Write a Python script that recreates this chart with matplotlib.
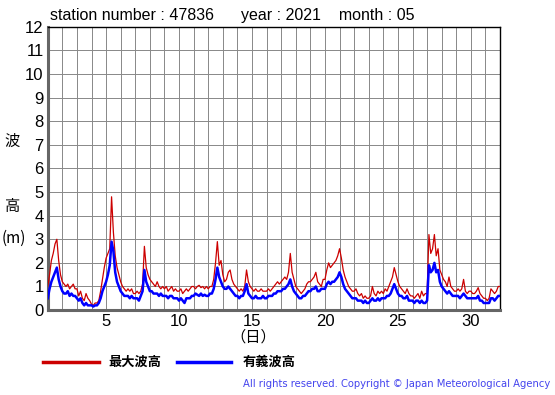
import numpy as np
import matplotlib
matplotlib.use("Agg")
from matplotlib import pyplot as plt
from matplotlib.lines import Line2D

plt.rcParams['font.family'] = ['Liberation Sans', 'Noto Sans CJK JP']

STATION = "47836"
YEAR = "2021"
MONTH = "05"

# 3-hourly readings, one row per day (00,03,...,21h), last value = 1 June 00h
max_wave = [
    1.0, 1.5, 2.1, 2.4, 2.8, 3.0, 2.1, 1.5,
    1.2, 1.1, 1.0, 1.1, 0.9, 1.0, 1.1, 0.9,
    0.9, 0.6, 0.8, 0.5, 0.4, 0.7, 0.5, 0.4,
    0.25, 0.2, 0.3, 0.3, 0.4, 0.8, 1.3, 1.8,
    2.2, 2.4, 2.6, 4.8, 3.3, 2.3, 1.8, 1.5,
    1.2, 1.0, 0.9, 0.8, 0.9, 0.8, 0.9, 0.7,
    0.7, 0.8, 0.7, 0.8, 1.1, 2.7, 1.8, 1.5,
    1.3, 1.2, 1.1, 1.0, 1.2, 1.0, 0.9, 1.0,
    0.9, 1.0, 0.8, 0.9, 1.0, 0.8, 0.9, 0.8,
    0.8, 0.9, 0.7, 0.8, 0.9, 0.8, 0.9, 1.0,
    1.0, 0.9, 1.0, 1.05, 0.95, 1.0, 0.9, 1.0,
    0.9, 1.0, 1.0, 1.3, 2.0, 2.9, 1.9, 2.1,
    1.5, 1.2, 1.3, 1.6, 1.7, 1.3, 1.1, 1.0,
    0.9, 0.8, 0.9, 0.8, 1.0, 1.7, 1.2, 1.0,
    0.9, 0.8, 0.9, 0.8, 0.8, 0.9, 0.8, 0.8,
    0.8, 0.9, 0.8, 0.9, 1.0, 1.1, 1.2, 1.1,
    1.2, 1.3, 1.4, 1.3, 1.6, 2.4, 1.6, 1.3,
    1.0, 0.9, 0.8, 0.7, 0.8, 0.9, 1.1, 1.2,
    1.2, 1.3, 1.4, 1.6, 1.2, 1.1, 1.0, 1.3,
    1.3, 1.7, 2.0, 1.8, 1.9, 2.0, 2.1, 2.3,
    2.6, 2.2, 1.7, 1.4, 1.2, 1.0, 0.9, 0.8,
    0.8, 0.9, 0.7, 0.6, 0.7, 0.5, 0.6, 0.5,
    0.5, 0.6, 1.0, 0.7, 0.6, 0.8, 0.7, 0.8,
    0.7, 0.9, 0.8, 1.0, 1.2, 1.4, 1.8, 1.5,
    1.2, 1.0, 0.9, 0.8, 0.7, 0.9, 0.7, 0.6,
    0.6, 0.5, 0.6, 0.7, 0.5, 0.8, 0.6, 0.7,
    0.7, 3.2, 2.4, 2.6, 3.2, 2.3, 2.6, 1.7,
    1.5, 1.3, 1.2, 1.0, 1.4, 1.0, 0.9, 0.8,
    0.8, 0.9, 0.8, 0.9, 1.3, 0.8, 0.7, 0.8,
    0.8, 0.7, 0.7, 0.8, 0.95, 0.7, 0.6, 0.5,
    0.5, 0.4, 0.5, 0.9, 0.8, 0.7, 0.8, 1.0,
    1.0,
]

sig_wave = [
    0.5, 0.9, 1.2, 1.4, 1.6, 1.8, 1.3, 1.0,
    0.8, 0.7, 0.7, 0.8, 0.6, 0.7, 0.6, 0.6,
    0.5, 0.4, 0.5, 0.3, 0.2, 0.3, 0.2, 0.2,
    0.2, 0.15, 0.2, 0.2, 0.3, 0.5, 0.8, 1.0,
    1.2, 1.5, 1.9, 2.9, 2.5, 1.6, 1.2, 1.0,
    0.8, 0.7, 0.6, 0.6, 0.6, 0.5, 0.6, 0.5,
    0.5, 0.5, 0.4, 0.6, 0.8, 1.7, 1.2, 1.0,
    0.8, 0.8, 0.7, 0.7, 0.7, 0.6, 0.7, 0.6,
    0.6, 0.6, 0.5, 0.6, 0.6, 0.5, 0.5, 0.5,
    0.4, 0.5, 0.4, 0.3, 0.5, 0.5, 0.5, 0.6,
    0.6, 0.7, 0.65, 0.6, 0.7, 0.6, 0.65, 0.6,
    0.6, 0.7, 0.7, 0.9, 1.3, 1.8, 1.4, 1.2,
    1.0, 0.9, 0.9, 1.0, 0.9, 0.8, 0.7, 0.6,
    0.6, 0.5, 0.6, 0.6, 0.8, 1.1, 0.7, 0.6,
    0.5, 0.5, 0.6, 0.5, 0.5, 0.5, 0.6, 0.5,
    0.5, 0.6, 0.6, 0.6, 0.7, 0.7, 0.8, 0.8,
    0.8, 0.9, 0.9, 1.0, 1.1, 1.3, 1.0, 0.8,
    0.7, 0.6, 0.5, 0.5, 0.6, 0.6, 0.7, 0.8,
    0.8, 0.9, 0.9, 1.0, 0.8, 0.8, 0.9, 0.9,
    0.9, 1.1, 1.2, 1.1, 1.2, 1.2, 1.3, 1.4,
    1.6, 1.4, 1.1, 0.9, 0.8, 0.7, 0.6, 0.5,
    0.5, 0.5, 0.4, 0.4, 0.4, 0.3, 0.4, 0.3,
    0.3, 0.4, 0.5, 0.4, 0.4, 0.5, 0.4, 0.5,
    0.5, 0.5, 0.6, 0.6, 0.7, 0.9, 1.1, 0.9,
    0.7, 0.6, 0.6, 0.5, 0.5, 0.6, 0.4, 0.4,
    0.4, 0.3, 0.4, 0.4, 0.3, 0.4, 0.3, 0.3,
    0.4, 1.9, 1.6, 1.7, 2.0, 1.6, 1.7, 1.2,
    1.0, 0.9, 0.8, 0.7, 0.8, 0.7, 0.6, 0.6,
    0.6, 0.6, 0.5, 0.6, 0.7, 0.6, 0.5, 0.5,
    0.5, 0.5, 0.5, 0.5, 0.6, 0.4, 0.4, 0.3,
    0.3, 0.3, 0.3, 0.5, 0.5, 0.4, 0.5, 0.6,
    0.6,
]

x_ticks = [5, 10, 15, 20, 25, 30]
y_ticks = list(range(0, 13))

# time axis in days, day 1 00h onwards
days = 1 + np.arange(len(max_wave)) / 8.0

fig = plt.figure(figsize=(5.55, 3.95), dpi=100)
ax = fig.add_axes([0.086, 0.215, 0.815, 0.717])

ax.plot(days, max_wave, color="#cc0000", lw=0.9, zorder=3)
ax.plot(days, sig_wave, color="#0000ff", lw=1.8, zorder=4)

ax.set_xlim(1, 32)
ax.set_ylim(0, 12)
ax.set_xticks(np.arange(1, 33), minor=True)
ax.set_xticks(x_ticks)
ax.set_yticks(y_ticks)
ax.grid(True, which="both", color="#888888", lw=0.7)
ax.tick_params(which="both", length=0, labelsize=12, pad=3)

for side in ("top", "right"):
    ax.spines[side].set_color("black")
    ax.spines[side].set_linewidth(1.0)
for side in ("left", "bottom"):
    ax.spines[side].set_color("#666666")
    ax.spines[side].set_linewidth(2.2)

fig.text(0.09, 0.962, "station number : %s      year : %s    month : %s"
         % (STATION, YEAR, MONTH), fontsize=11.5, va="center")

cjk = ['Noto Sans CJK JP', 'Liberation Sans']
fig.text(0.022, 0.643, "波", fontsize=11, family=cjk, ha="center", va="center")
fig.text(0.022, 0.478, "高", fontsize=11, family=cjk, ha="center", va="center")
fig.text(0.003, 0.397, "(m)", fontsize=11, family=cjk, ha="left", va="center")
fig.text(0.457, 0.147, "（日）", fontsize=11, family=cjk, ha="center", va="center")

fig.add_artist(Line2D([0.077, 0.178], [0.084, 0.084], color="#cc0000", lw=2.5))
fig.add_artist(Line2D([0.319, 0.416], [0.084, 0.084], color="#0000ff", lw=2.5))
fig.text(0.195, 0.084, "最大波高", fontsize=9.5, family=cjk, weight="bold", va="center")
fig.text(0.437, 0.084, "有義波高", fontsize=9.5, family=cjk, weight="bold", va="center")

fig.text(0.991, 0.028, "All rights reserved. Copyright © Japan Meteorological Agency",
         fontsize=7.2, family="DejaVu Sans", color="#4444ee", ha="right", va="center")

fig.savefig("out.png", dpi=100)
